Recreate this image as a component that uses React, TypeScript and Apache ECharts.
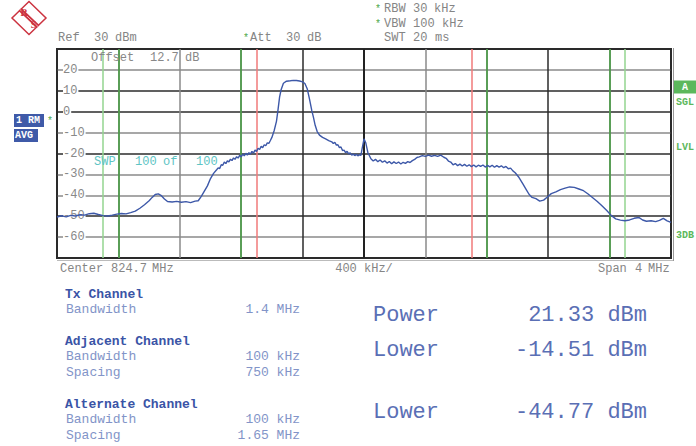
import React, { useEffect, useRef } from "react";
import * as echarts from "echarts";

// ---------- data ----------
// averaged trace: [frequency offset from centre (kHz), level (dBm)]
const trace: [number, number][] = [
  [-2000, -50.4], [-1970, -49.8], [-1940, -50.3], [-1910, -49.6], [-1880, -49.9], [-1850, -49.3], [-1820, -49.5],
  [-1790, -48.8], [-1760, -48.6], [-1730, -49.2], [-1700, -49.7], [-1670, -49.9], [-1640, -49.5], [-1610, -49.0],
  [-1580, -48.7], [-1550, -48.9], [-1520, -48.3], [-1490, -47.6], [-1460, -46.2], [-1430, -44.5], [-1400, -42.6],
  [-1380, -41.0], [-1360, -39.6], [-1340, -39.3], [-1320, -40.2], [-1300, -41.8], [-1280, -43.0], [-1250, -43.2],
  [-1220, -42.9], [-1190, -43.3], [-1160, -43.0], [-1130, -43.5], [-1100, -42.8], [-1080, -42.6], [-1060, -40.5],
  [-1040, -38.0], [-1020, -35.5], [-1000, -32.0], [-980, -29.5],
  [-960, -27.8], [-950, -26.9], [-940, -27.2], [-930, -25.4], [-920, -25.6], [-910, -24.1], [-900, -24.8],
  [-890, -23.5], [-880, -24.0], [-870, -22.7], [-860, -23.4], [-850, -22.1], [-840, -22.8], [-830, -21.5],
  [-820, -22.2], [-810, -20.9], [-800, -21.6], [-790, -20.3], [-780, -21.1], [-770, -19.9], [-760, -20.8],
  [-750, -19.6], [-740, -20.3], [-730, -19.0], [-720, -19.8], [-710, -18.4], [-700, -19.0], [-690, -17.5],
  [-680, -18.1], [-670, -16.6], [-660, -17.2], [-650, -15.8], [-640, -16.3], [-630, -14.9], [-620, -15.2],
  [-610, -13.8], [-600, -12.3],
  [-585, -9.0], [-570, -4.5], [-560, 1.0], [-550, 7.0], [-540, 10.5], [-525, 13.6], [-505, 14.6], [-480, 14.8],
  [-460, 15.0], [-440, 14.9], [-420, 14.7], [-400, 14.3], [-385, 13.5], [-370, 11.0], [-355, 6.0], [-340, 0.5],
  [-330, -2.5], [-318, -6.5], [-305, -9.5], [-290, -11.2], [-270, -12.3], [-250, -13.0], [-230, -13.8],
  [-210, -14.4], [-200, -15.2], [-190, -14.6], [-180, -16.0], [-170, -15.8], [-160, -17.2], [-150, -16.9],
  [-140, -18.6], [-130, -18.4], [-120, -19.6], [-110, -19.0], [-100, -20.2], [-90, -19.7], [-80, -20.8],
  [-70, -20.3], [-60, -21.0], [-50, -20.4], [-40, -21.1], [-30, -20.6], [-20, -20.9], [-12, -17.5],
  [0, -13.0], [12, -15.0], [25, -19.5],
  [45, -22.5], [60, -23.6], [75, -22.8], [90, -23.9], [105, -23.1], [120, -24.2], [135, -23.5], [150, -24.6],
  [165, -23.8], [180, -24.9], [195, -24.0], [210, -24.8], [225, -24.1], [240, -25.0], [255, -24.2], [270, -24.7],
  [285, -23.9], [300, -24.3], [315, -23.4], [330, -22.8], [345, -21.9], [360, -21.6], [380, -21.0], [400, -21.4],
  [420, -20.8], [440, -21.3], [460, -20.9], [480, -21.4], [500, -20.8], [520, -21.8], [535, -22.3], [550, -23.6],
  [565, -24.1], [580, -25.4], [595, -24.8], [610, -25.8], [625, -25.1], [640, -26.0], [655, -25.2], [670, -26.1],
  [685, -25.4], [700, -26.3], [715, -25.5], [730, -26.4], [745, -25.6], [760, -26.2], [775, -25.5], [790, -26.5],
  [805, -25.7], [820, -26.4], [835, -25.6], [850, -26.6], [865, -25.8], [880, -26.5], [895, -25.9], [910, -26.8],
  [925, -26.2], [940, -27.3], [955, -27.0], [970, -28.3], [985, -29.2],
  [1010, -31.5], [1035, -34.5], [1055, -37.0], [1075, -39.5], [1095, -41.0], [1120, -41.6], [1145, -42.8],
  [1170, -42.3], [1195, -40.8], [1220, -39.2], [1250, -38.4], [1280, -37.3], [1310, -36.6], [1340, -36.0],
  [1370, -36.2], [1400, -37.0], [1430, -37.8], [1460, -39.4], [1490, -41.2], [1520, -43.0], [1550, -45.0],
  [1580, -47.2], [1610, -49.6], [1640, -51.3], [1670, -51.9], [1700, -52.2], [1730, -51.8], [1760, -51.0],
  [1790, -50.6], [1815, -51.8], [1840, -52.4], [1870, -52.2], [1900, -52.6], [1925, -52.0], [1950, -51.0],
  [1975, -52.2], [2000, -53.0],
];

// channel limit lines (kHz offset from centre)
const altLimitsOuter = [-1700, 1700];
const altLimitsInner = [-1600, 1600];
const adjLimits = [-800, 800];
const txLimits = [-700, 700];
const centreLine = [0];

const headerRef = ["Ref", "30", "dBm"];
const headerAtt = ["Att", "30", "dB"];
const headerRbw = ["RBW", "30", "kHz"];
const headerVbw = ["VBW", "100", "kHz"];
const headerSwt = ["SWT", "20", "ms"];
const offsetText = ["Offset", "12.7", "dB"];
const sweepText = ["SWP", "100", "of", "100"];
const footerCenter = ["Center", "824.7", "MHz"];
const footerDiv = "400 kHz/";
const footerSpan = ["Span", "4", "MHz"];

const tableHeads = ["Tx Channel", "Adjacent Channel", "Alternate Channel"];
const tableRows = [
  ["Bandwidth", "1.4 MHz"],
  ["Bandwidth", "100 kHz"],
  ["Spacing", "750 kHz"],
  ["Bandwidth", "100 kHz"],
  ["Spacing", "1.65 MHz"],
];
const resultLabels = ["Power", "Lower", "Lower"];
const resultValues = ["21.33 dBm", "-14.51 dBm", "-44.77 dBm"];

const MONO = "'Liberation Mono', 'DejaVu Sans Mono', monospace";
const GRAY = "#858585";
const DARK = "#2b2b2b";
const MID = "#8a8a8a";

function txt(text: string, x: number, y: number, opts: any = {}) {
  return {
    type: "text",
    x,
    y,
    silent: true,
    z: opts.z ?? 10,
    style: {
      text,
      fill: opts.fill ?? GRAY,
      font: `${opts.weight ?? "normal"} ${opts.size ?? 12}px ${MONO}`,
      textAlign: opts.align ?? "left",
      textVerticalAlign: "middle",
    },
  };
}

export default function App() {
  const ref = useRef<HTMLDivElement>(null);

  useEffect(() => {
    document.body.style.margin = "0";
    if (!ref.current) return;
    const chart = echarts.init(ref.current, undefined, { renderer: "svg" });

    const markerLine = (f: number, color: string, width: number) => ({
      xAxis: f,
      lineStyle: { color, width, type: "solid" },
    });
    const markLines = [
      ...altLimitsOuter.map((f) => markerLine(f, "#93d48f", 1.5)),
      ...altLimitsInner.map((f) => markerLine(f, "#4ea84a", 1.5)),
      ...adjLimits.map((f) => markerLine(f, "#4ea84a", 1.5)),
      ...txLimits.map((f) => markerLine(f, "#f07a7a", 1.5)),
      ...centreLine.map((f) => markerLine(f, "#222", 2)),
    ];

    const graphics: any[] = [];
    // R&S logo
    graphics.push({
      type: "polygon",
      shape: { points: [[29, 1.5], [46, 18], [29, 34.5], [12, 18]] },
      style: { fill: "none", stroke: "#cc3340", lineWidth: 1.5 },
      silent: true,
    });
    graphics.push({
      type: "line",
      shape: { x1: 20, y1: 9.5, x2: 38, y2: 26.5 },
      style: { stroke: "#cc3340", lineWidth: 4 },
      silent: true,
    });
    graphics.push({
      type: "line",
      shape: { x1: 20, y1: 9.5, x2: 38, y2: 26.5 },
      style: { stroke: "#f3b7bb", lineWidth: 1 },
      silent: true,
    });
    graphics.push({
      type: "text", x: 24, y: 12, silent: true,
      style: { text: "R", fill: "#cc3340", font: "bold 10px 'Liberation Serif', serif", textAlign: "center", textVerticalAlign: "middle" },
    });
    graphics.push({
      type: "text", x: 33.5, y: 24, silent: true,
      style: { text: "S", fill: "#cc3340", font: "bold 10px 'Liberation Serif', serif", textAlign: "center", textVerticalAlign: "middle" },
    });

    // header
    graphics.push(txt(headerRef[0], 58, 38), txt(headerRef[1], 94, 38), txt(headerRef[2], 115, 38));
    graphics.push(txt("*", 243, 38, { fill: "#4ea84a", size: 10 }));
    graphics.push(txt(headerAtt[0], 250, 38), txt(headerAtt[1], 286, 38), txt(headerAtt[2], 307, 38));
    graphics.push(txt("*", 375, 9, { fill: "#4ea84a", size: 10 }));
    graphics.push(txt(headerRbw[0], 384, 9), txt(headerRbw[1], 413, 9), txt(headerRbw[2], 434, 9));
    graphics.push(txt("*", 375, 24, { fill: "#4ea84a", size: 10 }));
    graphics.push(txt(headerVbw[0], 384, 24), txt(headerVbw[1], 413, 24), txt(headerVbw[2], 442, 24));
    graphics.push(txt(headerSwt[0], 384, 38), txt(headerSwt[1], 413, 38), txt(headerSwt[2], 435, 38));

    // inside plot texts
    graphics.push(txt(offsetText[0], 91, 58, { fill: "#888" }), txt(offsetText[1], 150, 58, { fill: "#888" }), txt(offsetText[2], 185, 58, { fill: "#888" }));
    const teal = "#5ec4c4";
    graphics.push(
      txt(sweepText[0], 94, 162, { fill: teal }),
      txt(sweepText[1], 135, 162, { fill: teal }),
      txt(sweepText[2], 163, 162, { fill: teal }),
      txt(sweepText[3], 196, 162, { fill: teal })
    );

    // footer
    graphics.push(txt(footerCenter[0], 60, 269), txt(footerCenter[1], 111, 269), txt(footerCenter[2], 152, 269));
    graphics.push(txt(footerDiv, 364, 269, { align: "center" }));
    graphics.push(txt(footerSpan[0], 598, 269), txt(footerSpan[1], 635, 269), txt(footerSpan[2], 648, 269));

    // left-side trace info boxes
    graphics.push({ type: "rect", shape: { x: 14, y: 114, width: 30, height: 13 }, style: { fill: "#3f5aa8" }, silent: true });
    graphics.push(txt("1 RM", 16, 120.5, { fill: "#fff", size: 10, weight: "bold" }));
    graphics.push(txt("*", 47, 121, { fill: "#4ea84a", size: 10 }));
    graphics.push({ type: "rect", shape: { x: 14, y: 129, width: 24, height: 13 }, style: { fill: "#3f5aa8" }, silent: true });
    graphics.push(txt("AVG", 15, 135.5, { fill: "#fff", size: 10, weight: "bold" }));

    // right-side status labels
    graphics.push({ type: "rect", shape: { x: 674, y: 80.5, width: 22, height: 13 }, style: { fill: "#5cb85c" }, silent: true });
    graphics.push(txt("A", 685, 87, { fill: "#fff", size: 10, weight: "bold", align: "center" }));
    const green = "#5cb85c";
    graphics.push(txt("SGL", 676, 102.5, { fill: green, size: 10, weight: "bold" }));
    graphics.push(txt("LVL", 676, 147, { fill: green, size: 10, weight: "bold" }));
    graphics.push(txt("3DB", 676, 235, { fill: green, size: 10, weight: "bold" }));

    // bottom table
    const headCol = "#3a54a6";
    const rowCol = "#8294c8";
    const headY = [294, 341, 404];
    tableHeads.forEach((h, i) => graphics.push(txt(h, 65, headY[i], { fill: headCol, size: 13, weight: "bold" })));
    const rowY = [309, 356, 372, 419, 435];
    tableRows.forEach((r, i) => {
      graphics.push(txt(r[0], 66, rowY[i], { fill: rowCol, size: 13 }));
      graphics.push(txt(r[1], 300, rowY[i], { fill: rowCol, size: 13, align: "right" }));
    });
    const resCol = "#5a6fb5";
    const resY = [315, 350, 412];
    resultLabels.forEach((l, i) => {
      graphics.push(txt(l, 373, resY[i], { fill: resCol, size: 22 }));
      graphics.push(txt(resultValues[i], 647, resY[i], { fill: resCol, size: 22, align: "right" }));
    });

    // frame shadow lines
    graphics.push({ type: "line", shape: { x1: 57, y1: 260.5, x2: 674, y2: 260.5 }, style: { stroke: "#bbb", lineWidth: 1 }, silent: true });
    graphics.push({ type: "line", shape: { x1: 673.5, y1: 48, x2: 673.5, y2: 261 }, style: { stroke: "#999", lineWidth: 1 }, silent: true });

    chart.setOption({
      animation: false,
      backgroundColor: "#fff",
      grid: {
        left: 57,
        top: 49,
        width: 614,
        height: 209,
        show: true,
        borderColor: DARK,
        borderWidth: 2,
        backgroundColor: "transparent",
      },
      xAxis: {
        type: "value",
        min: -2000,
        max: 2000,
        interval: 400,
        axisLine: { show: false },
        axisTick: { show: false },
        axisLabel: { show: false },
        splitLine: {
          show: true,
          lineStyle: {
            width: 1.5,
            color: [DARK, "#555", MID, "#555", DARK, DARK, MID, "#555", DARK, "#555", DARK],
          },
        },
      },
      yAxis: {
        type: "value",
        min: -70,
        max: 30,
        interval: 10,
        axisLine: { show: false },
        axisTick: { show: false },
        axisLabel: {
          inside: true,
          margin: 6,
          showMinLabel: false,
          showMaxLabel: false,
          color: "#888",
          fontFamily: MONO,
          fontSize: 12,
          backgroundColor: "#fff",
          padding: [0, 1, 0, 0],
        },
        splitLine: {
          show: true,
          lineStyle: {
            width: 1.5,
            color: [DARK, MID, DARK, MID, MID, DARK, MID, DARK, DARK, MID, DARK],
          },
        },
      },
      series: [
        {
          type: "line",
          data: trace,
          showSymbol: false,
          symbol: "none",
          lineStyle: { color: "#3d58a8", width: 1.4 },
          z: 5,
          markLine: {
            silent: true,
            symbol: ["none", "none"],
            label: { show: false },
            animation: false,
            z: 1,
            data: markLines,
          },
        },
      ],
      graphic: graphics,
    });

    return () => chart.dispose();
  }, []);

  return <div ref={ref} style={{ width: 696, height: 446 }} />;
}
